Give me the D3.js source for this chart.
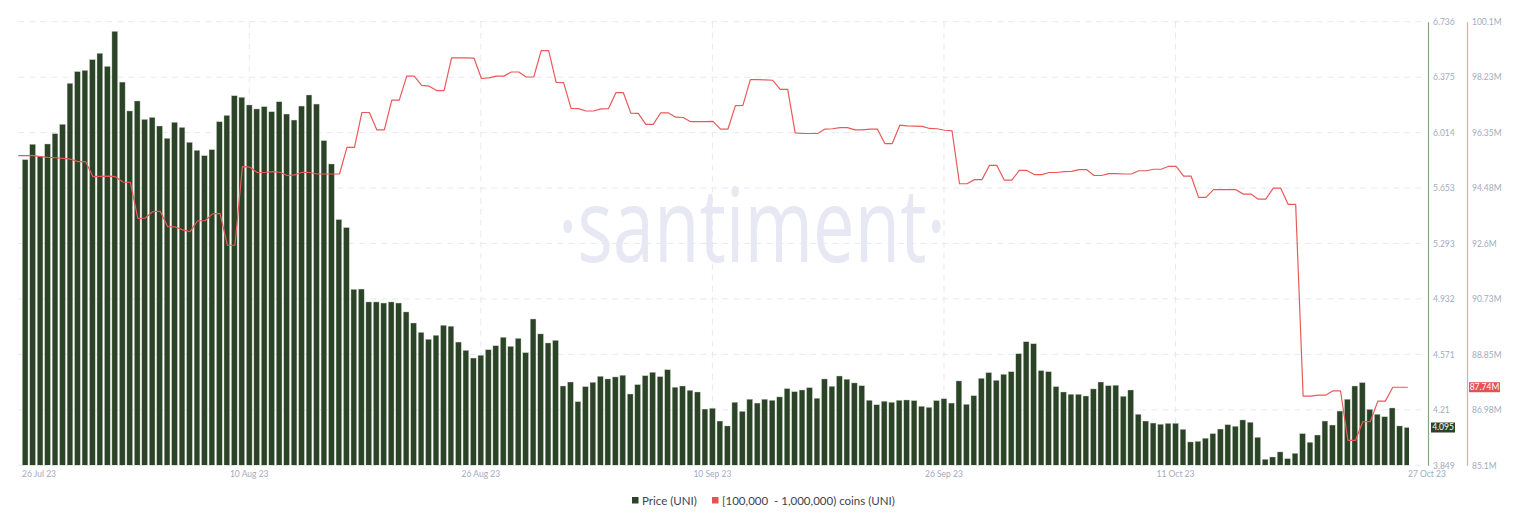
<!DOCTYPE html>
<html><head><meta charset="utf-8">
<script src="https://cdn.jsdelivr.net/npm/d3@7/dist/d3.min.js"></script>
<style>
html,body{margin:0;padding:0;background:#fff;}
svg{display:block;font-family:Lato,"Open Sans",sans-serif;}
</style></head><body>
<svg id="chart" width="1524" height="516"></svg>
<script>
// 12-hour candles, 26 Jul 23 -> 27 Oct 23
const price = [
5.838,5.938,5.857,5.940,6.007,6.068,6.335,6.411,6.419,6.489,
6.530,6.445,6.673,6.343,6.155,6.220,6.100,6.113,6.057,5.977,
6.081,6.048,5.951,5.899,5.864,5.903,6.085,6.126,6.254,6.244,
6.194,6.168,6.183,6.150,6.215,6.135,6.096,6.187,6.259,6.200,
5.962,5.810,5.448,5.396,4.994,4.996,4.912,4.912,4.905,4.912,
4.905,4.847,4.775,4.714,4.669,4.695,4.760,4.754,4.651,4.597,
4.547,4.565,4.601,4.627,4.682,4.623,4.675,4.582,4.801,4.704,
4.645,4.662,4.365,4.391,4.263,4.361,4.389,4.428,4.411,4.424,
4.435,4.313,4.374,4.432,4.454,4.426,4.471,4.357,4.365,4.337,
4.326,4.215,4.220,4.137,4.105,4.259,4.200,4.279,4.254,4.279,
4.272,4.294,4.348,4.328,4.339,4.354,4.285,4.411,4.363,4.430,
4.409,4.385,4.367,4.272,4.243,4.266,4.259,4.272,4.274,4.270,
4.233,4.226,4.270,4.282,4.254,4.398,4.246,4.302,4.415,4.452,
4.402,4.441,4.458,4.575,4.653,4.640,4.465,4.458,4.361,4.326,
4.311,4.311,4.300,4.346,4.391,4.367,4.370,4.298,4.339,4.181,
4.137,4.124,4.116,4.122,4.122,4.083,4.001,4.005,4.025,4.055,
4.085,4.113,4.103,4.144,4.129,4.031,3.888,3.903,3.936,3.892,
3.927,4.055,3.999,4.046,4.137,4.111,4.202,4.279,4.365,4.387,
4.213,4.181,4.165,4.222,4.105,4.095
];
// supply held by addresses with [100,000 - 1,000,000) UNI, millions
const holders = [
95.57,95.57,95.57,95.54,95.51,95.50,95.48,95.45,95.37,95.37,
94.86,94.87,94.88,94.86,94.68,94.67,93.45,93.46,93.68,93.69,
93.17,93.16,93.06,93.00,93.37,93.37,93.60,93.62,92.54,92.54,
95.20,95.18,95.00,95.00,95.03,95.01,94.90,94.92,95.01,95.00,
94.95,94.95,94.95,94.95,95.85,95.85,97.03,97.03,96.44,96.44,
97.45,97.45,98.26,98.26,97.95,97.92,97.77,97.77,98.88,98.88,
98.88,98.87,98.18,98.20,98.26,98.26,98.40,98.40,98.23,98.23,
99.12,99.12,98.05,98.04,97.17,97.16,97.08,97.08,97.15,97.16,
97.70,97.70,97.01,97.00,96.63,96.63,97.02,97.02,96.87,96.86,
96.72,96.72,96.72,96.73,96.47,96.47,97.26,97.27,98.14,98.14,
98.13,98.12,97.81,97.81,96.34,96.32,96.32,96.32,96.47,96.48,
96.52,96.52,96.44,96.44,96.47,96.47,95.98,95.98,96.60,96.58,
96.57,96.56,96.49,96.48,96.43,96.41,94.62,94.62,94.76,94.76,
95.24,95.24,94.74,94.74,95.07,95.07,94.93,94.93,95.00,95.00,
95.03,95.04,95.10,95.10,94.90,94.90,94.96,94.96,94.95,94.95,
95.06,95.06,95.11,95.11,95.21,95.21,94.88,94.88,94.16,94.16,
94.42,94.42,94.42,94.42,94.27,94.27,94.10,94.10,94.47,94.47,
93.92,93.92,87.44,87.44,87.47,87.47,87.62,87.62,85.94,85.94,
86.58,86.58,87.27,87.27,87.74,87.74,87.74
];
const priceTicks = [6.736,6.375,6.014,5.653,5.293,4.932,4.571,4.21,3.849];
const holderTicks = [100.1,98.23,96.35,94.48,92.6,90.73,88.85,86.98,85.1];
const holderTickLabels = ["100.1M","98.23M","96.35M","94.48M","92.6M","90.73M","88.85M","86.98M","85.1M"];
const xTickIdx = [0,30,61,92,123,154,185];
const xTickLabels = ["26 Jul 23","10 Aug 23","26 Aug 23","10 Sep 23","26 Sep 23","11 Oct 23","27 Oct 23"];
const priceLast = "4.095", holderLast = "87.74M";
const legendLabels = ["Price (UNI)","[100,000  - 1,000,000) coins (UNI)"];

(function(){
const GREEN = "#2b4326", RED = "#e85a5a", MUTED = "#a3aac0";
const svg = d3.select("#chart");
const plotTop = 21.7, plotBottom = 465.3, plotLeft = 18.3, gridRight = 1421;
const step = 7.47;

const yP = d3.scaleLinear().domain([3.849, 6.736]).range([plotBottom, plotTop]);
const yH = d3.scaleLinear().domain([85.1, 100.1]).range([plotBottom, plotTop]);
const xBar = d3.scaleLinear().domain([0, price.length]).range([22.3, 22.3 + step*price.length]);
const xLine = d3.scaleLinear().domain([0, holders.length-1]).range([plotLeft, plotLeft + step*(holders.length-1)]);
const bw = 5.7;
const barCenter = i => xBar(i) + bw/2;

// watermark
svg.append("text").attr("x", 558).attr("y", 262)
  .attr("textLength", 388).attr("lengthAdjust", "spacingAndGlyphs")
  .style("font-family", "'Open Sans',sans-serif").style("font-weight", 400)
  .style("font-size", "102px").attr("fill", "#e8e8f4").text("·santiment·");

// grid
const grid = svg.append("g");
grid.selectAll("line.h").data(priceTicks).join("line").attr("class","h")
  .attr("x1", plotLeft).attr("x2", gridRight)
  .attr("y1", d => yP(d)).attr("y2", d => yP(d))
  .attr("stroke", "#e6e9f2").attr("stroke-width", 1).attr("stroke-dasharray", "6,5");
grid.selectAll("line.v").data(xTickIdx.slice(1, -1)).join("line").attr("class","v")
  .attr("x1", d => barCenter(d)).attr("x2", d => barCenter(d))
  .attr("y1", plotTop).attr("y2", plotBottom)
  .attr("stroke", "#e6e9f2").attr("stroke-width", 1).attr("stroke-dasharray", "6,5");

// clip
svg.append("clipPath").attr("id","clip").append("rect")
  .attr("x", plotLeft).attr("y", 0).attr("width", 1409 - plotLeft).attr("height", plotBottom);

// bars
svg.append("g").attr("clip-path","url(#clip)")
  .selectAll("rect").data(price).join("rect")
  .attr("x", (d,i) => xBar(i)).attr("width", bw)
  .attr("y", d => yP(d)).attr("height", d => plotBottom - yP(d))
  .attr("fill", GREEN).attr("stroke", "#c6cfc3").attr("stroke-width", 0.4);

// holders line
svg.append("path").datum(holders)
  .attr("d", d3.line().x((d,i) => xLine(i)).y(d => yH(d)))
  .attr("fill","none").attr("stroke", RED).attr("stroke-width", 1.2).attr("stroke-linejoin","round");

// right axes
const axP = svg.append("g").attr("transform", "translate(1428,0)")
  .call(d3.axisRight(yP).tickValues(priceTicks).tickSize(0).tickPadding(5).tickFormat(d => String(d)));
axP.select(".domain").attr("stroke", "#86a681").attr("stroke-width", 1.2);
const axH = svg.append("g").attr("transform", "translate(1467,0)")
  .call(d3.axisRight(yH).tickValues(holderTicks).tickSize(0).tickPadding(5)
    .tickFormat((d,i) => holderTickLabels[i]));
axH.select(".domain").attr("stroke", "#f0a3a3").attr("stroke-width", 1.2);
[axP, axH].forEach(a => a.selectAll("text").attr("fill", MUTED)
  .style("font-size", "8.5px").style("font-family", "Lato,sans-serif"));

// last value badges
const lastP = price[price.length-1], lastH = holders[holders.length-1];
const bP = svg.append("g").attr("transform", `translate(1431,${yP(lastP)})`);
bP.append("rect").attr("x",0).attr("y",-5).attr("width",24).attr("height",10).attr("fill",GREEN);
bP.append("text").attr("x",12).attr("y",0).attr("dy","0.35em").attr("text-anchor","middle")
  .attr("fill","#fff").style("font-size","8.5px").text(priceLast);
const bH = svg.append("g").attr("transform", `translate(1469,${yH(lastH)})`);
bH.append("rect").attr("x",0).attr("y",-5).attr("width",31).attr("height",10).attr("fill","#e35353");
bH.append("text").attr("x",15.5).attr("y",0).attr("dy","0.35em").attr("text-anchor","middle")
  .attr("fill","#fff").style("font-size","8.5px").text(holderLast);

// x labels
svg.append("g").selectAll("text").data(xTickIdx).join("text")
  .attr("x", (d,i) => i === 0 ? 22 : (i === xTickIdx.length-1 ? 1408 : barCenter(d)))
  .attr("y", 474.5).attr("dy","0.35em")
  .attr("text-anchor", (d,i) => (i === 0 || i === xTickIdx.length-1) ? "start" : "middle")
  .attr("fill", MUTED).style("font-size","8.5px")
  .text((d,i) => xTickLabels[i]);

// legend
const lg = svg.append("g").style("font-size","11.5px");
lg.append("rect").attr("x",632).attr("y",497).attr("width",6.5).attr("height",6.5).attr("fill",GREEN);
lg.append("text").attr("x",642).attr("y",500.5).attr("dy","0.35em").attr("fill","#3d4250").text(legendLabels[0]);
lg.append("rect").attr("x",712).attr("y",497).attr("width",6.5).attr("height",6.5).attr("fill","#e35353");
lg.append("text").attr("x",722).attr("y",500.5).attr("dy","0.35em").attr("fill","#3d4250")
  .attr("xml:space","preserve").style("white-space","pre").text(legendLabels[1]);
})();
</script>
</body></html>
